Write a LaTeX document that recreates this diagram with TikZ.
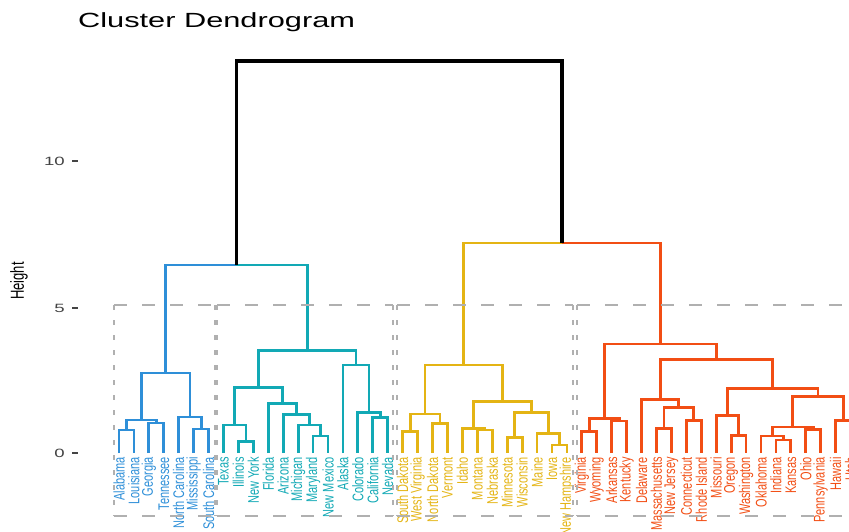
\documentclass[tikz,border=0pt]{standalone}
\usepackage{fontspec}
\setmainfont{Liberation Sans}
\usepackage{graphicx}
\definecolor{cA}{HTML}{2E8FD8}
\definecolor{cB}{HTML}{12A9B5}
\definecolor{cC}{HTML}{E4B414}
\definecolor{cD}{HTML}{F24E14}
\definecolor{rectgray}{HTML}{B0B0B0}
\definecolor{axisgray}{HTML}{444444}
\begin{document}
\begin{tikzpicture}[x=1pt,y=-1pt,
  br/.style={line width=2.8pt, line join=miter},
  lab/.style={rotate=90, anchor=east, inner sep=0pt, font=\fontsize{11}{11}\selectfont},
  hd/.style={draw=rectgray, line width=2.2pt, dash pattern=on 13pt off 15pt},
  vd/.style={draw=rectgray, line width=2.2pt, dash pattern=on 5pt off 10pt},
  ticklab/.style={anchor=east, inner sep=0pt, text=axisgray, font=\fontsize{12}{12}\selectfont},
  tickmark/.style={draw=axisgray, line width=1.4pt}]
\useasboundingbox (0,0) rectangle (849,531);
\clip (0,0) rectangle (849,531);

% title and axis
\node[anchor=base west, inner sep=0pt, font=\fontsize{20.5}{20.5}\selectfont] (title) at (78,27) {\scalebox{1.5}[1]{Cluster Dendrogram}};
\node[rotate=90, inner sep=0pt, font=\fontsize{13}{13}\selectfont] (ylab) at (19,281) {\scalebox{1}[1.45]{Height}};
\node[ticklab] (t10) at (65,161) {\scalebox{1.55}[1]{10}};
\node[ticklab] (t5) at (65,308) {\scalebox{1.55}[1]{5}};
\node[ticklab] (t0) at (65,453) {\scalebox{1.55}[1]{0}};
\coordinate (k10a) at (72,161); \coordinate (k10b) at (78,161);
\coordinate (k5a) at (72,308); \coordinate (k5b) at (78,308);
\coordinate (k0a) at (72,453); \coordinate (k0b) at (78,453);
\draw[tickmark] (k10a) -- (k10b);
\draw[tickmark] (k5a) -- (k5b);
\draw[tickmark] (k0a) -- (k0b);

% leaves
\foreach \i/\n/\c in {0/Alabama/cA,1/Louisiana/cA,2/Georgia/cA,3/Tennessee/cA,4/North Carolina/cA,5/Mississippi/cA,6/South Carolina/cA,
 7/Texas/cB,8/Illinois/cB,9/New York/cB,10/Florida/cB,11/Arizona/cB,12/Michigan/cB,13/Maryland/cB,14/New Mexico/cB,15/Alaska/cB,16/Colorado/cB,17/California/cB,18/Nevada/cB,
 19/South Dakota/cC,20/West Virginia/cC,21/North Dakota/cC,22/Vermont/cC,23/Idaho/cC,24/Montana/cC,25/Nebraska/cC,26/Minnesota/cC,27/Wisconsin/cC,28/Maine/cC,29/Iowa/cC,30/New Hampshire/cC,
 31/Virginia/cD,32/Wyoming/cD,33/Arkansas/cD,34/Kentucky/cD,35/Delaware/cD,36/Massachusetts/cD,37/New Jersey/cD,38/Connecticut/cD,39/Rhode Island/cD,40/Missouri/cD,41/Oregon/cD,42/Washington/cD,43/Oklahoma/cD,44/Indiana/cD,45/Kansas/cD,46/Ohio/cD,47/Pennsylvania/cD,48/Hawaii/cD,49/Utah/cD}{
  \coordinate (L\i) at ({119+14.93*\i},453);
  \node[lab, text=\c] (N\i) at ({119+14.93*\i},457) {\scalebox{1}[1.4]{\n}};
}

% merge points
\coordinate (AlLo) at (126.47,430);
\coordinate (GeTe) at (156.33,423);
\coordinate (A1) at (141.40,420);
\coordinate (MiSC) at (201.12,429);
\coordinate (B1) at (189.92,417);
\coordinate (C1) at (165.66,373);

\coordinate (IlNY) at (245.90,441.7);
\coordinate (TxIlNY) at (234.71,425);
\coordinate (MdNM) at (320.56,436);
\coordinate (MiMN) at (309.36,425);
\coordinate (AzP) at (296.30,414.3);
\coordinate (FlP) at (282.30,403.3);
\coordinate (L2n) at (258.50,387.3);
\coordinate (CaNv) at (380.28,417.3);
\coordinate (CoP) at (369.08,412.3);
\coordinate (AkP) at (356.02,365);
\coordinate (C2) at (307.26,350.7);

\coordinate (SDWV) at (410.14,431.7);
\coordinate (NDVt) at (440.00,423.3);
\coordinate (P3) at (425.07,414);
\coordinate (MtNe) at (484.79,430);
\coordinate (IdP) at (473.59,428.3);
\coordinate (MnWi) at (514.65,437.7);
\coordinate (IaNH) at (559.44,445);
\coordinate (MeP) at (548.24,433.3);
\coordinate (Q3) at (531.44,412.7);
\coordinate (R3) at (502.52,401.7);
\coordinate (C3) at (463.80,365);

\coordinate (VaWy) at (589.30,431.7);
\coordinate (ArKy) at (619.16,421);
\coordinate (S4) at (604.23,418.3);
\coordinate (MaNJ) at (663.95,428.3);
\coordinate (CtRI) at (693.81,420.7);
\coordinate (T4) at (678.88,407.3);
\coordinate (DeP) at (660.22,399.3);
\coordinate (OrWa) at (738.60,435.5);
\coordinate (MoP) at (727.40,415.8);
\coordinate (InKs) at (783.39,440);
\coordinate (OkP) at (772.19,436);
\coordinate (OhPa) at (813.25,429.3);
\coordinate (U4) at (792.72,427);
\coordinate (HiUt) at (843.11,420.5);
\coordinate (V4) at (817.91,396.3);
\coordinate (W4) at (772.66,388.5);
\coordinate (X4) at (716.44,359.3);
\coordinate (C4) at (660.34,344);

\coordinate (C12) at (236.46,265);
\coordinate (C34) at (562.07,243);
\coordinate (Root) at (399.27,61);

% cluster 1
\begin{scope}[br, draw=cA]
\draw (L0) |- (AlLo) -| (L1);
\draw (L2) |- (GeTe) -| (L3);
\draw (AlLo) |- (A1) -| (GeTe);
\draw (L5) |- (MiSC) -| (L6);
\draw (L4) |- (B1) -| (MiSC);
\draw (A1) |- (C1) -| (B1);
\draw (C1) |- (C12);
\end{scope}
% cluster 2
\begin{scope}[br, draw=cB]
\draw (L8) |- (IlNY) -| (L9);
\draw (L7) |- (TxIlNY) -| (IlNY);
\draw (L13) |- (MdNM) -| (L14);
\draw (L12) |- (MiMN) -| (MdNM);
\draw (L11) |- (AzP) -| (MiMN);
\draw (L10) |- (FlP) -| (AzP);
\draw (TxIlNY) |- (L2n) -| (FlP);
\draw (L17) |- (CaNv) -| (L18);
\draw (L16) |- (CoP) -| (CaNv);
\draw (L15) |- (AkP) -| (CoP);
\draw (L2n) |- (C2) -| (AkP);
\draw (C2) |- (C12);
\end{scope}
% cluster 3
\begin{scope}[br, draw=cC]
\draw (L19) |- (SDWV) -| (L20);
\draw (L21) |- (NDVt) -| (L22);
\draw (SDWV) |- (P3) -| (NDVt);
\draw (L24) |- (MtNe) -| (L25);
\draw (L23) |- (IdP) -| (MtNe);
\draw (L26) |- (MnWi) -| (L27);
\draw (L29) |- (IaNH) -| (L30);
\draw (L28) |- (MeP) -| (IaNH);
\draw (MnWi) |- (Q3) -| (MeP);
\draw (IdP) |- (R3) -| (Q3);
\draw (P3) |- (C3) -| (R3);
\draw (C3) |- (C34);
\end{scope}
% cluster 4
\begin{scope}[br, draw=cD]
\draw (L31) |- (VaWy) -| (L32);
\draw (L33) |- (ArKy) -| (L34);
\draw (VaWy) |- (S4) -| (ArKy);
\draw (L36) |- (MaNJ) -| (L37);
\draw (L38) |- (CtRI) -| (L39);
\draw (MaNJ) |- (T4) -| (CtRI);
\draw (L35) |- (DeP) -| (T4);
\draw (L41) |- (OrWa) -| (L42);
\draw (L40) |- (MoP) -| (OrWa);
\draw (L44) |- (InKs) -| (L45);
\draw (L43) |- (OkP) -| (InKs);
\draw (L46) |- (OhPa) -| (L47);
\draw (OkP) |- (U4) -| (OhPa);
\draw (L48) |- (HiUt) -| (L49);
\draw (U4) |- (V4) -| (HiUt);
\draw (MoP) |- (W4) -| (V4);
\draw (DeP) |- (X4) -| (W4);
\draw (S4) |- (C4) -| (X4);
\draw (C4) |- (C34);
\end{scope}
% top
\draw[line width=3.2pt, line join=miter, draw=black] (C12) |- (Root) -| (C34);

% cluster rectangles
\foreach \k/\xa/\xb in {1/114/215, 2/217/393, 3/397/573, 4/577/857}{
  \coordinate (bx\k a) at (\xa,305);
  \coordinate (bx\k b) at (\xb,516);
  \draw[hd] (bx\k a) -- (bx\k a -| bx\k b);
  \draw[hd] (bx\k a |- bx\k b) -- (bx\k b);
  \draw[vd] (bx\k a) -- (bx\k a |- bx\k b);
  \draw[vd] (bx\k a -| bx\k b) -- (bx\k b);
}
\end{tikzpicture}
\end{document}
